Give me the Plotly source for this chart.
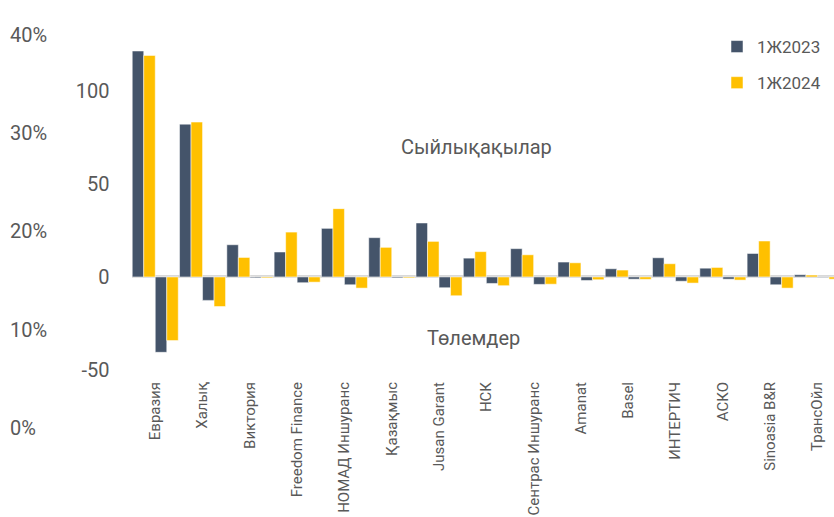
import plotly.graph_objects as go

companies = ["Евразия", "Халық", "Виктория", "Freedom Finance", "НОМАД Иншуранс",
             "Қазақмыс", "Jusan Garant", "НСК", "Сентрас Иншуранс", "Amanat",
             "Basel", "ИНТЕРТИЧ", "АСКО", "Sinoasia B&R", "ТрансОйл"]
premiums_2023 = [121.4, 82.1, 17.3, 13.4, 26.1, 21.1, 29.0, 10.1, 15.2, 8.0, 4.4, 10.3, 4.7, 12.6, 1.2]
premiums_2024 = [119.0, 83.2, 10.5, 24.1, 36.7, 15.9, 19.1, 13.6, 11.9, 7.6, 3.7, 7.1, 5.1, 19.3, 1.0]
payments_2023 = [-40.5, -12.6, -0.5, -3.1, -4.2, -0.5, -5.8, -3.5, -4.0, -1.9, -1.2, -2.3, -1.2, -4.2, -0.3]
payments_2024 = [-34.2, -15.9, -0.5, -2.8, -6.0, -0.5, -10.1, -4.7, -3.9, -1.5, -1.3, -3.3, -1.7, -6.0, -1.2]
series_names = ["1Ж2023", "1Ж2024"]
y_ticks = [-50, 0, 50, 100, 150]
y_tick_labels = ["-50", "0", "50", "100", "150"]
pct_ticks = [0, 0.1, 0.2, 0.3, 0.4]
pct_tick_labels = ["0%", "10%", "20%", "30%", "40%"]

DARK = "#44546A"
YELLOW = "#FFC000"
FONT = "Roboto, Liberation Sans, sans-serif"
GREY = "#595959"

x = list(range(len(companies)))
line = dict(color="rgba(255,255,255,0.5)", width=1)

fig = go.Figure()
fig.add_trace(go.Bar(x=x, y=premiums_2023, name=series_names[0], marker=dict(color=DARK, line=line),
                     legendgroup="a"))
fig.add_trace(go.Bar(x=x, y=premiums_2024, name=series_names[1], marker=dict(color=YELLOW, line=line),
                     legendgroup="b"))
fig.add_trace(go.Bar(x=x, y=payments_2023, name=series_names[0], marker=dict(color=DARK, line=line),
                     legendgroup="a", showlegend=False))
fig.add_trace(go.Bar(x=x, y=payments_2024, name=series_names[1], marker=dict(color=YELLOW, line=line),
                     legendgroup="b", showlegend=False))
# dummy trace to host the secondary percentage axis
fig.add_trace(go.Scatter(x=[None], y=[None], yaxis="y2", showlegend=False, hoverinfo="skip"))

W, H = 834, 517
plot_bottom_px = 430
fig.update_layout(
    width=W, height=H,
    margin=dict(l=0, r=0, t=0, b=H - plot_bottom_px, autoexpand=False),
    plot_bgcolor="rgba(0,0,0,0)", paper_bgcolor="white",
    barmode="group", bargap=0.027, bargroupgap=0,
    font=dict(family=FONT, color=GREY, size=20),
    xaxis=dict(domain=[131.6 / W, 1], range=[-0.5, 14.35], tickmode="array",
               tickvals=x, ticktext=companies, tickangle=-90, automargin=False,
               tickfont=dict(size=15), showgrid=False, zeroline=False, showline=False,
               ticks="", anchor="y"),
    yaxis=dict(domain=[(plot_bottom_px - 378) / plot_bottom_px, 1], range=[-54.3, 148.8],
               tickvals=y_ticks, ticktext=y_tick_labels, showgrid=False, zeroline=True,
               zerolinecolor="#D9D9D9", automargin=False,
               zerolinewidth=2.5, showline=False, ticks="", ticklabelstandoff=21,
               tickfont=dict(size=20)),
    yaxis2=dict(domain=[(plot_bottom_px - 427.7) / plot_bottom_px, 1], range=[0, 0.4356],
                tickvals=pct_ticks, ticktext=pct_tick_labels, anchor="free", position=0,
                side="right", automargin=False,
                showgrid=False, zeroline=False, showline=False, ticks="", ticklabelstandoff=9,
                tickfont=dict(size=20)),
    legend=dict(x=717 / W, y=1 - 29 / plot_bottom_px, xanchor="left", yanchor="top",
                bgcolor="rgba(0,0,0,0)",
                font=dict(size=17), tracegroupgap=11, traceorder="grouped", itemwidth=30),
    showlegend=True,
    annotations=[
        dict(text="Сыйлықақылар", x=476 / W, y=1 - 147 / plot_bottom_px, xref="paper", yref="paper",
             showarrow=False, font=dict(size=20, color=GREY), xanchor="center", yanchor="middle"),
        dict(text="Төлемдер", x=473 / W, y=1 - 338 / plot_bottom_px, xref="paper", yref="paper",
             showarrow=False, font=dict(size=20, color=GREY), xanchor="center", yanchor="middle"),
    ],
)

fig.write_html("out.html", config={"displayModeBar": False},
               post_script="document.body.style.margin='0px';")
